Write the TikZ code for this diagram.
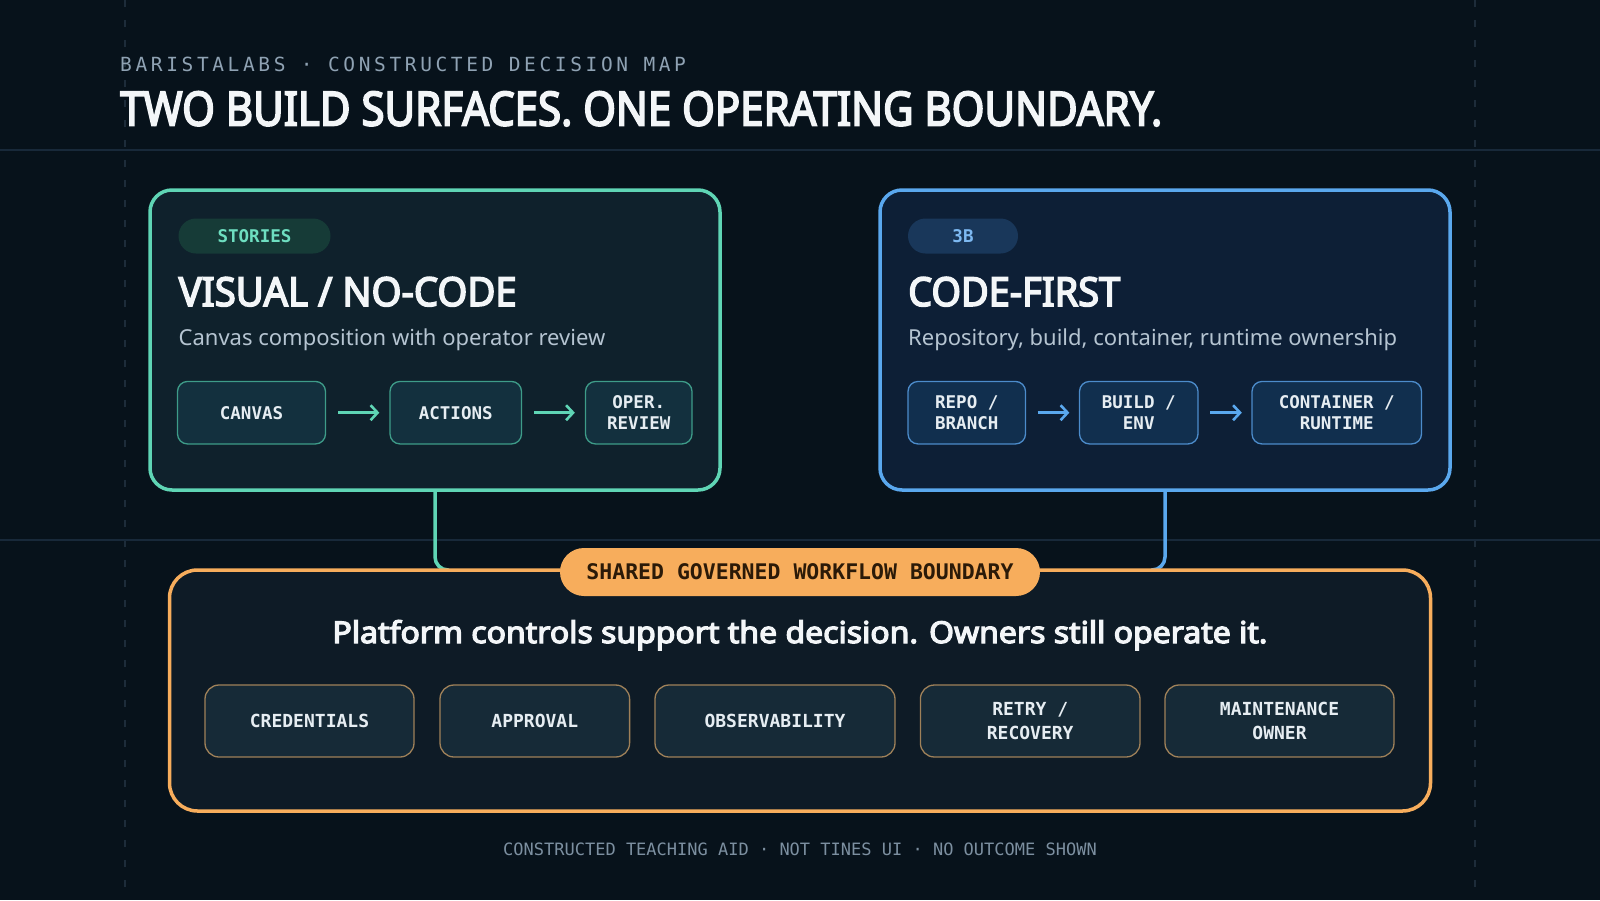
\documentclass[tikz,border=0pt]{standalone}
\usepackage{fontspec}
\setmainfont{Noto Sans}
\newfontfamily\heavyf{Noto Sans}[FakeBold=4]
\newfontfamily\monof{DejaVu Sans Mono}
\newfontfamily\monosp{DejaVu Sans Mono}[LetterSpace=18.6]
\usetikzlibrary{arrows.meta}
\definecolor{bg}{HTML}{07121B}
\definecolor{gridc}{HTML}{18293A}
\definecolor{dashc}{HTML}{1D2C3A}
\definecolor{eyebrowc}{HTML}{8FA2B3}
\definecolor{tealc}{HTML}{5FD5B5}
\definecolor{bluec}{HTML}{5AA8EE}
\definecolor{orangec}{HTML}{F7AD5C}
\definecolor{lpfill}{HTML}{0F212C}
\definecolor{rpfill}{HTML}{0D1F36}
\definecolor{lstepfill}{HTML}{13303E}
\definecolor{lstepdraw}{HTML}{3E9C89}
\definecolor{rstepfill}{HTML}{112F4E}
\definecolor{rstepdraw}{HTML}{4C8CCB}
\definecolor{obfill}{HTML}{0E1B26}
\definecolor{ctlfill}{HTML}{162A37}
\definecolor{ctldraw}{HTML}{9F8159}
\definecolor{subc}{HTML}{B5C4D1}
\definecolor{whitec}{HTML}{F3F6F8}
\definecolor{steptext}{HTML}{E6EDF2}
\definecolor{storiesfill}{HTML}{163B37}
\definecolor{storiestext}{HTML}{6EDEC0}
\definecolor{bbfill}{HTML}{19375A}
\definecolor{bbtext}{HTML}{7DB9F2}
\definecolor{pilltext}{HTML}{2B1A08}
\definecolor{footc}{HTML}{7C8FA0}
\newcommand{\fitw}[2]{\resizebox{#1}{\height}{#2}}
\tikzset{
  panel/.style={draw, line width=3.5pt, rounded corners=22pt, minimum height=300pt, minimum width=570pt, inner sep=0pt},
  tag/.style={rounded corners=17.5pt, minimum height=35pt, inner sep=0pt, font=\monof\bfseries\fontsize{17.5}{21}\selectfont},
  heading/.style={anchor=base west, inner sep=0pt, text=whitec, font=\heavyf\fontsize{40}{48}\selectfont},
  subline/.style={anchor=base west, inner sep=0pt, text=subc, font=\fontsize{22}{26}\selectfont},
  stepbox/.style={draw, line width=1.3pt, rounded corners=10pt, minimum height=62.5pt, inner sep=0pt, align=center, text=steptext, font=\monof\bfseries\fontsize{17.5}{21.5}\selectfont},
  lstep/.style={stepbox, fill=lstepfill, draw=lstepdraw},
  rstep/.style={stepbox, fill=rstepfill, draw=rstepdraw},
  flowarrow/.style={line width=2.6pt, -{Straight Barb[length=7pt,width=15pt,line width=2.6pt]}},
  ctlbox/.style={draw=ctldraw, fill=ctlfill, line width=1.3pt, rounded corners=14pt, minimum height=72pt, inner sep=0pt, align=center, text=steptext, font=\monof\bfseries\fontsize{18}{23.5}\selectfont},
  conn/.style={line width=3.5pt, rounded corners=13pt},
}
\begin{document}
\begin{tikzpicture}[x=1pt, y=-1pt]
\useasboundingbox (0,0) rectangle (1600,900);
\fill[bg] (0,0) rectangle (1600,900);
% grid
\draw[dashc, line width=1.5pt, dash pattern=on 7pt off 13pt] (125,0) -- (125,888);
\draw[dashc, line width=1.5pt, dash pattern=on 7pt off 13pt] (1475,0) -- (1475,888);
\draw[gridc, line width=1.5pt] (0,150) -- (1600,150);
\draw[gridc, line width=1.5pt] (0,540) -- (1600,540);
% header
\node[anchor=base west, inner sep=0pt, text=eyebrowc, font=\monosp\fontsize{19.5}{23}\selectfont] (eyebrow) at (120,71.5) {BARISTALABS · CONSTRUCTED DECISION MAP};
\node[anchor=base west, inner sep=0pt, text=whitec, font=\heavyf\fontsize{47}{56}\selectfont] (title) at (120,125.5) {\fitw{1042pt}{TWO BUILD SURFACES. ONE OPERATING BOUNDARY.}};
% panels
\node[panel, draw=tealc, fill=lpfill] (lp) at (435,340) {};
\node[panel, draw=bluec, fill=rpfill] (rp) at (1165,340) {};
\node[tag, fill=storiesfill, text=storiestext, minimum width=152pt] (tagl) at (254.5,236) {STORIES};
\node[tag, fill=bbfill, text=bbtext, minimum width=110pt] (tagr) at (963,236) {3B};
\node[heading] (hl) at (178.5,306) {\fitw{338pt}{VISUAL / NO-CODE}};
\node[heading] (hr) at (908,306) {\fitw{212pt}{CODE-FIRST}};
\node[subline] (sl) at (178.5,345) {Canvas composition with operator review};
\node[subline] (sr) at (908,345) {Repository, build, container, runtime ownership};
% left steps
\node[lstep, minimum width=148pt] (canvas) at (251.5,412.7) {CANVAS};
\node[lstep, minimum width=131.5pt] (actions) at (455.75,412.7) {ACTIONS};
\node[lstep, minimum width=106.5pt] (oper) at (638.75,412.7) {OPER.\\REVIEW};
\draw[flowarrow, tealc, shorten <=12pt, shorten >=10pt] (canvas.east) -- (actions.west);
\draw[flowarrow, tealc, shorten <=12pt, shorten >=10pt] (actions.east) -- (oper.west);
% right steps
\node[rstep, minimum width=117.5pt] (repo) at (966.75,412.7) {REPO /\\BRANCH};
\node[rstep, minimum width=118.5pt] (build) at (1138.75,412.7) {BUILD /\\ENV};
\node[rstep, minimum width=169.5pt] (container) at (1336.75,412.7) {CONTAINER /\\RUNTIME};
\draw[flowarrow, bluec, shorten <=11.5pt, shorten >=9.5pt] (repo.east) -- (build.west);
\draw[flowarrow, bluec, shorten <=11.5pt, shorten >=9.5pt] (build.east) -- (container.west);
% boundary box
\coordinate (ltop) at (449,570);
\coordinate (rtop) at (1151,570);
\draw[conn, tealc] (lp.south) -- (lp.south |- ltop) -- (ltop);
\draw[conn, bluec] (rp.south) -- (rp.south |- rtop) -- (rtop);
\node[draw=orangec, fill=obfill, line width=3.5pt, rounded corners=28pt, minimum width=1261pt, minimum height=241pt, inner sep=0pt] (ob) at (800,690.5) {};
\node[fill=orangec, rounded corners=24pt, minimum width=480pt, minimum height=48pt, inner sep=0pt, text=pilltext, font=\monof\bfseries\fontsize{21.5}{25}\selectfont] (pill) at (800,572) {SHARED GOVERNED WORKFLOW BOUNDARY};
\node[inner sep=0pt, anchor=base, text=whitec, font=\heavyf\fontsize{30}{36}\selectfont] (stmt) at (800,643) {\fitw{935pt}{Platform controls support the decision. Owners still operate it.}};
\node[ctlbox, minimum width=209pt] (cred) at (309.5,721) {CREDENTIALS};
\node[ctlbox, minimum width=189.6pt] (appr) at (534.8,721) {APPROVAL};
\node[ctlbox, minimum width=240pt] (obs) at (775,721) {OBSERVABILITY};
\node[ctlbox, minimum width=219.6pt] (retry) at (1030.2,721) {RETRY /\\RECOVERY};
\node[ctlbox, minimum width=229pt] (maint) at (1279.5,721) {MAINTENANCE\\OWNER};
% footer
\node[inner sep=0pt, anchor=base, text=footc, font=\monof\fontsize{17}{20}\selectfont] (foot) at (800,855.5) {CONSTRUCTED TEACHING AID · NOT TINES UI · NO OUTCOME SHOWN};
\end{tikzpicture}
\end{document}
